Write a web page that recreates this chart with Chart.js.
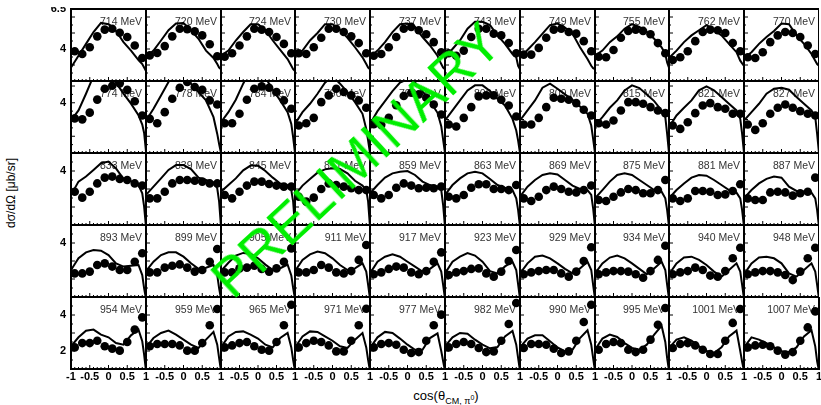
<!DOCTYPE html>
<html>
<head>
<meta charset="utf-8">
<script src="https://cdn.jsdelivr.net/npm/chart.js@4.4.0/dist/chart.umd.min.js"></script>
<style>
  body { margin: 0; background: #fff; }
  #page { position: relative; width: 821px; height: 405px; overflow: hidden; background: #fff;
          font-family: "Liberation Sans", Arial, sans-serif; }
  #page canvas { position: absolute; }
  #ytitle { position: absolute; left: 11px; top: 193px; transform: translate(-50%, -50%) rotate(-90deg);
            white-space: nowrap; font-size: 12px; color: #000; }
  #xtitle { position: absolute; left: 446px; top: 397px; transform: translate(-50%, -50%);
            white-space: nowrap; font-size: 13px; color: #000; }
  #xtitle sub { font-size: 9px; }
  #xtitle sup { font-size: 7px; }
  #prelim { position: absolute; left: 356px; top: 160px; transform: translate(-50%, -50%) rotate(-43deg);
            white-space: nowrap; font-size: 55px; color: #00ee00; pointer-events: none; }
</style>
</head>
<body>
<div id="page">
  <div id="ytitle">dσ/dΩ [μb/sr]</div>
  <div id="xtitle">cos(θ<sub>CM, π<sup>0</sup></sub>)</div>
</div>
<script>
// beam energies, one per panel (row by row)
const energies = [
  714, 720, 724, 730, 737, 743, 749, 755, 762, 770,
  774, 778, 784, 790, 796, 802, 809, 815, 821, 827,
  833, 839, 845, 851, 859, 863, 869, 875, 881, 887,
  893, 899, 905, 911, 917, 923, 929, 934, 940, 948,
  954, 959, 965, 971, 977, 982, 990, 995, 1001, 1007
]

// cos(theta) grid of the model curve and of the data points
const curveX = [-1, -0.8, -0.6, -0.4, -0.2, 0, 0.2, 0.4, 0.6, 0.8, 0.9, 0.95, 1]
const dotX = [-0.9, -0.7, -0.5, -0.3, -0.1, 0.1, 0.3, 0.5, 0.7, 0.9]

// y range of each row and the labels shown
const rowYMin = [2, 1, 1, 1, 1]
const rowYMax = [6.5, 5.3, 5, 5, 5]
const yTickLabels = [[4, 6.5], [4], [4], [4], [2, 4]]
const xTickLabels = [-1, -0.5, 0, 0.5, 1]

/* ===============================
   DATA POINTS (dsigma/dOmega)
================================ */
const dotsRow1 = [
  [3.86, 3.69, 4.11, 4.79, 5.21, 5.27, 5.02, 4.75, 4.22, 3.44],
  [3.60, 3.75, 4.18, 4.79, 5.27, 5.24, 5.10, 4.85, 4.30, 3.55],
  [3.52, 3.73, 4.22, 4.79, 5.27, 5.21, 5.06, 4.75, 4.32, 3.73],
  [3.73, 3.69, 4.11, 4.70, 5.27, 5.27, 5.06, 4.79, 4.37, 3.73],
  [3.58, 3.69, 4.11, 4.75, 5.27, 5.38, 5.17, 4.92, 4.43, 3.80],
  [3.73, 3.58, 3.90, 4.75, 5.27, 5.27, 4.96, 4.85, 4.37, 3.73],
  [3.65, 3.65, 4.07, 4.70, 5.21, 5.27, 5.06, 4.96, 4.49, 3.86],
  [3.52, 3.48, 3.94, 4.70, 5.13, 5.21, 5.13, 4.92, 4.37, 3.73],
  [3.31, 3.48, 3.86, 4.49, 5.06, 5.21, 5.17, 5.00, 4.37, 3.86],
  [3.48, 3.44, 3.80, 4.43, 4.85, 5.06, 5.00, 4.75, 4.22, 3.69]
]
const dotsRow2 = [
  [3.07, 3.01, 3.41, 4.19, 4.84, 5.02, 5.16, 4.77, 4.09, 3.24],
  [3.04, 2.78, 3.44, 4.24, 4.90, 5.24, 4.94, 4.78, 4.14, 3.90],
  [2.78, 2.78, 3.34, 4.18, 4.84, 4.98, 4.90, 4.64, 4.14, 3.64],
  [2.64, 2.78, 3.10, 4.04, 4.44, 4.84, 4.64, 4.44, 4.14, 3.70],
  [2.72, 2.68, 3.10, 3.85, 4.40, 4.60, 4.50, 4.30, 3.90, 3.30],
  [2.70, 2.58, 3.10, 3.74, 4.38, 4.44, 4.44, 4.18, 3.84, 3.18],
  [2.70, 2.70, 3.10, 3.74, 4.30, 4.24, 4.18, 3.98, 3.58, 3.24],
  [2.78, 2.70, 2.94, 3.54, 4.04, 4.04, 3.94, 3.74, 3.54, 3.38],
  [2.64, 2.44, 2.84, 3.38, 3.84, 3.98, 3.74, 3.64, 3.34, 3.34],
  [2.70, 2.38, 2.78, 3.34, 3.70, 3.90, 3.70, 3.50, 3.34, 3.24]
]
const dotsRow3 = [
  [2.85, 2.52, 2.85, 3.31, 3.63, 3.69, 3.56, 3.50, 3.31, 3.19],
  [2.48, 2.48, 2.85, 3.31, 3.50, 3.50, 3.46, 3.41, 3.31, 3.31],
  [2.67, 2.48, 2.85, 3.19, 3.41, 3.41, 3.28, 3.19, 3.13, 3.13],
  [2.57, 2.30, 2.52, 3.00, 3.31, 3.22, 3.13, 3.04, 2.94, 2.94],
  [2.67, 2.48, 2.67, 3.07, 3.31, 3.19, 3.04, 3.07, 3.04, 3.13],
  [2.57, 2.48, 2.67, 3.07, 3.26, 3.26, 3.00, 3.00, 2.94, 3.22],
  [2.48, 2.33, 2.57, 2.94, 3.13, 3.00, 2.85, 2.81, 2.94, 3.19],
  [2.39, 2.33, 2.57, 2.81, 3.00, 2.94, 2.76, 2.76, 2.94, 3.50],
  [2.48, 2.33, 2.48, 2.89, 2.89, 2.85, 2.67, 2.70, 2.89, 3.26],
  [2.48, 2.39, 2.39, 2.81, 2.85, 2.81, 2.63, 2.76, 2.85, 3.63]
]
const dotsRow4 = [
  [2.31, 2.31, 2.41, 2.78, 2.87, 2.69, 2.50, 2.50, 2.96, 3.43],
  [2.37, 2.37, 2.63, 2.74, 2.81, 2.63, 2.41, 2.50, 2.96, 3.67],
  [2.37, 2.37, 2.59, 2.63, 2.74, 2.56, 2.41, 2.59, 2.96, 3.70],
  [2.37, 2.37, 2.50, 2.78, 2.63, 2.37, 2.31, 2.44, 3.06, 3.89],
  [2.26, 2.37, 2.56, 2.69, 2.63, 2.37, 2.26, 2.44, 2.96, 3.48],
  [2.22, 2.37, 2.44, 2.56, 2.59, 2.31, 2.13, 2.41, 3.00, 3.61],
  [2.26, 2.37, 2.44, 2.50, 2.50, 2.31, 2.13, 2.41, 3.00, 3.76],
  [2.26, 2.37, 2.44, 2.44, 2.41, 2.26, 2.07, 2.44, 3.06, 3.85],
  [2.26, 2.37, 2.44, 2.63, 2.50, 2.19, 2.13, 2.44, 3.15, 3.74],
  [2.26, 2.37, 2.44, 2.44, 2.37, 2.22, 1.94, 2.41, 3.15, 3.74]
]
const dotsRow5 = [
  [2.20, 2.44, 2.44, 2.57, 2.26, 2.13, 2.02, 2.50, 3.19, 3.87],
  [2.26, 2.39, 2.39, 2.39, 2.31, 2.02, 2.02, 2.44, 3.43, 4.33],
  [2.20, 2.31, 2.44, 2.50, 2.26, 2.07, 2.02, 2.50, 3.43, 4.57],
  [2.20, 2.44, 2.57, 2.50, 2.31, 1.98, 1.98, 2.57, 3.43, 4.35],
  [2.20, 2.39, 2.44, 2.35, 2.07, 1.89, 1.94, 2.57, 3.43, 4.02],
  [2.20, 2.39, 2.50, 2.39, 2.17, 1.94, 1.98, 2.57, 3.50, 4.67],
  [2.17, 2.39, 2.39, 2.35, 2.13, 1.89, 1.98, 2.57, 3.61, 4.57],
  [2.07, 2.39, 2.50, 2.44, 2.07, 1.94, 2.07, 2.63, 3.46, 4.39],
  [2.17, 2.39, 2.44, 2.31, 2.07, 1.83, 1.83, 2.57, 3.56, 4.33],
  [2.20, 2.31, 2.35, 2.26, 2.02, 1.80, 1.94, 2.57, 3.31, 4.20]
]

/* ===============================
   MODEL CURVES
================================ */
const curveRow1 = [
  [2.84, 3.58, 4.32, 5.06, 5.63, 5.55, 5.13, 4.43, 3.90, 3.31, 3.06, 2.84, 2.63],
  [3.48, 3.90, 4.53, 5.17, 5.59, 5.63, 5.17, 4.64, 3.90, 3.44, 3.06, 2.84, 2.74],
  [3.58, 3.90, 4.53, 5.06, 5.55, 5.55, 5.17, 4.53, 3.94, 3.37, 2.95, 2.74, 2.63],
  [3.58, 3.90, 4.53, 5.00, 5.55, 5.55, 5.21, 4.70, 4.11, 3.48, 3.06, 2.84, 2.74],
  [3.48, 3.90, 4.43, 5.06, 5.55, 5.59, 5.38, 4.75, 4.22, 3.58, 3.06, 2.84, 2.74],
  [3.37, 4.00, 4.53, 5.27, 5.70, 5.70, 5.49, 4.85, 4.32, 3.69, 3.48, 2.95, 2.74],
  [3.44, 3.94, 4.43, 4.96, 5.49, 5.59, 5.34, 4.96, 4.11, 3.37, 2.95, 2.80, 2.74],
  [3.58, 3.90, 4.43, 4.79, 5.27, 5.55, 5.38, 5.06, 4.64, 4.11, 3.69, 3.16, 2.84],
  [3.44, 3.90, 4.43, 4.85, 5.17, 5.49, 5.21, 4.85, 4.32, 3.80, 3.27, 3.10, 2.95],
  [3.44, 3.80, 4.32, 4.75, 5.13, 5.59, 5.55, 4.85, 4.32, 3.69, 3.27, 3.06, 2.95]
]
const curveRow2 = [
  [2.94, 3.54, 4.54, 5.60, 6.20, 6.20, 5.20, 4.55, 3.95, 3.25, 2.70, 2.20, 1.10],
  [2.94, 3.64, 4.44, 5.24, 6.00, 6.00, 5.14, 4.64, 4.14, 3.14, 2.14, 1.54, 1.00],
  [2.84, 3.44, 4.18, 5.14, 6.00, 6.00, 5.50, 4.78, 4.14, 3.44, 2.74, 1.94, 1.00],
  [2.74, 3.44, 3.94, 4.54, 5.20, 5.60, 5.14, 4.64, 4.04, 3.34, 2.44, 1.74, 1.00],
  [2.74, 3.50, 4.10, 4.70, 5.20, 5.40, 5.20, 4.70, 4.10, 3.40, 2.60, 1.80, 1.00],
  [2.94, 3.54, 4.14, 4.74, 5.04, 5.04, 4.70, 4.24, 3.84, 3.04, 2.34, 1.74, 1.00],
  [2.94, 3.54, 4.14, 4.90, 5.14, 4.84, 4.50, 4.18, 3.78, 3.34, 2.64, 1.84, 1.00],
  [2.64, 3.14, 3.70, 4.14, 4.74, 5.04, 4.88, 4.50, 4.10, 3.54, 3.14, 2.14, 1.00],
  [2.54, 3.24, 3.70, 4.14, 4.74, 4.98, 4.74, 4.34, 3.94, 3.54, 3.04, 2.14, 1.00],
  [2.94, 3.44, 3.94, 4.54, 4.84, 4.90, 4.78, 4.34, 3.94, 3.54, 3.14, 2.14, 1.00]
]
const curveRow3 = [
  [2.67, 3.41, 3.69, 4.06, 4.43, 4.52, 4.15, 3.56, 3.44, 3.22, 2.76, 2.02, 0.90],
  [2.67, 3.13, 3.59, 4.06, 4.33, 4.33, 4.11, 3.63, 3.50, 3.37, 3.04, 2.30, 0.90],
  [2.85, 3.22, 3.59, 4.04, 4.30, 4.30, 4.00, 3.63, 3.31, 3.22, 2.94, 2.30, 0.90],
  [2.67, 3.19, 3.56, 3.91, 4.09, 4.15, 4.11, 3.87, 3.46, 3.19, 2.94, 2.30, 0.90],
  [2.76, 3.22, 3.63, 3.87, 3.96, 4.00, 3.78, 3.41, 3.22, 3.13, 2.94, 2.11, 0.90],
  [2.67, 3.22, 3.59, 3.87, 3.96, 3.87, 3.56, 3.22, 3.07, 2.94, 2.48, 1.83, 0.90],
  [2.57, 3.13, 3.50, 3.78, 3.87, 3.81, 3.50, 3.19, 3.00, 2.94, 2.67, 1.93, 0.90],
  [2.48, 2.94, 3.41, 3.78, 3.87, 3.78, 3.50, 3.22, 2.94, 2.85, 2.48, 1.83, 0.90],
  [2.48, 2.94, 3.31, 3.63, 3.78, 3.74, 3.50, 3.22, 2.94, 2.80, 2.48, 1.83, 0.90],
  [2.48, 2.94, 3.31, 3.56, 3.69, 3.63, 3.13, 2.89, 2.85, 2.80, 2.48, 1.83, 0.90]
]
const curveRow4 = [
  [2.50, 3.15, 3.48, 3.61, 3.57, 3.33, 2.87, 2.69, 2.74, 2.78, 2.22, 1.48, 0.90],
  [2.44, 2.96, 3.33, 3.48, 3.48, 3.24, 2.87, 2.56, 2.63, 2.78, 2.22, 1.48, 0.90],
  [2.44, 2.90, 3.30, 3.45, 3.40, 3.15, 2.80, 2.50, 2.60, 2.80, 2.20, 1.50, 0.90],
  [2.44, 3.06, 3.37, 3.52, 3.43, 3.15, 2.78, 2.50, 2.59, 2.87, 2.41, 1.67, 0.90],
  [2.31, 2.96, 3.24, 3.37, 3.24, 2.96, 2.69, 2.41, 2.56, 2.87, 2.41, 1.67, 0.90],
  [2.31, 2.96, 3.24, 3.44, 3.30, 2.96, 2.44, 2.31, 2.70, 2.96, 2.50, 1.70, 0.90],
  [2.31, 2.87, 3.24, 3.30, 3.15, 2.87, 2.56, 2.31, 2.59, 2.96, 2.50, 1.67, 0.90],
  [2.31, 2.87, 3.19, 3.30, 3.15, 2.87, 2.56, 2.26, 2.59, 2.96, 2.50, 1.67, 0.90],
  [2.26, 2.87, 3.19, 3.24, 3.06, 2.78, 2.41, 2.13, 2.50, 2.87, 2.41, 1.67, 0.90],
  [2.26, 2.87, 3.19, 3.24, 3.15, 2.87, 2.31, 2.13, 2.50, 2.87, 2.41, 1.67, 0.90]
]
const curveRow5 = [
  [2.26, 2.76, 3.13, 3.19, 2.91, 2.76, 2.44, 2.35, 2.87, 3.19, 2.54, 1.80, 0.90],
  [2.20, 2.72, 3.00, 3.13, 2.91, 2.63, 2.35, 2.17, 2.63, 3.06, 2.35, 1.60, 0.90],
  [2.20, 2.81, 3.06, 3.09, 2.91, 2.69, 2.35, 2.20, 2.72, 3.00, 2.20, 1.50, 0.90],
  [2.20, 2.81, 3.09, 3.06, 2.81, 2.57, 2.26, 2.17, 2.63, 3.00, 2.20, 1.50, 0.90],
  [2.17, 2.76, 3.06, 3.00, 2.69, 2.35, 2.07, 2.07, 2.72, 2.98, 2.00, 1.43, 0.90],
  [2.26, 2.76, 3.00, 2.96, 2.63, 2.35, 2.15, 2.22, 2.81, 3.11, 2.35, 1.60, 0.90],
  [2.20, 2.69, 2.87, 2.87, 2.54, 2.20, 1.98, 2.07, 2.72, 3.15, 2.35, 1.60, 0.90],
  [2.07, 2.69, 2.91, 2.78, 2.44, 2.17, 2.07, 2.35, 2.91, 3.40, 2.50, 1.60, 0.90],
  [2.17, 2.63, 2.76, 2.57, 2.26, 2.00, 1.89, 2.20, 2.81, 3.13, 2.00, 1.40, 0.90],
  [2.20, 2.76, 2.63, 2.44, 2.20, 1.98, 1.94, 2.20, 2.81, 3.15, 2.26, 1.43, 0.90]
]

const dotRows = [dotsRow1, dotsRow2, dotsRow3, dotsRow4, dotsRow5]
const curveRows = [curveRow1, curveRow2, curveRow3, curveRow4, curveRow5]

// frame edges of the pads (pixels on the page)
const colEdges = [71, 146, 221, 295, 370, 445, 520, 595, 669, 744, 819]
const rowEdges = [9, 81, 153, 225, 297, 369]

const FONT = '"Liberation Sans", Arial, sans-serif'

/* ===============================
   FRAME, TICKS, LABELS
================================ */
const panelDeco = {
  id: 'panelDeco',
  beforeDatasetsDraw(chart, args, opts) {
    const ctx = chart.ctx
    const a = chart.chartArea
    ctx.save()
    ctx.fillStyle = '#333'
    ctx.font = '10.5px ' + FONT
    ctx.textAlign = 'right'
    ctx.textBaseline = 'alphabetic'
    ctx.fillText(opts.label, a.right - 4, a.top + 16)
    ctx.restore()
  },
  afterDatasetsDraw(chart, args, opts) {
    const ctx = chart.ctx
    const a = chart.chartArea
    const xs = chart.scales.x
    const ys = chart.scales.y
    ctx.save()
    ctx.strokeStyle = '#000'
    ctx.lineWidth = 1
    ctx.beginPath()
    for (let k = -10; k <= 10; k++) {
      const px = xs.getPixelForValue(k / 10)
      const len = k % 5 === 0 ? 4 : 2
      ctx.moveTo(px, a.bottom)
      ctx.lineTo(px, a.bottom - len)
    }
    for (let v = Math.ceil(ys.min * 2) / 2; v <= ys.max; v += 0.5) {
      const py = ys.getPixelForValue(v)
      const len = Number.isInteger(v) ? 4 : 2
      ctx.moveTo(a.left, py)
      ctx.lineTo(a.left + len, py)
    }
    ctx.stroke()

    ctx.lineWidth = 2
    ctx.strokeRect(a.left, a.top, a.right - a.left, a.bottom - a.top)

    ctx.fillStyle = '#000'
    ctx.font = 'bold 11px ' + FONT
    if (opts.col === 0) {
      ctx.textAlign = 'right'
      ctx.textBaseline = 'middle'
      yTickLabels[opts.row].forEach(v => {
        ctx.fillText(String(v), a.left - 5, ys.getPixelForValue(v))
      })
    }
    if (opts.row === 4) {
      ctx.textAlign = 'center'
      ctx.textBaseline = 'top'
      xTickLabels.forEach(v => {
        if (v === -1 && opts.col > 0) return
        ctx.fillText(String(v), xs.getPixelForValue(v), a.bottom + 2)
      })
    }
    ctx.restore()
  }
}

/* ===============================
   BUILD THE 50 PADS
================================ */
const page = document.getElementById('page')

for (let r = 0; r < 5; r++) {
  for (let c = 0; c < 10; c++) {
    const pad = {
      left: c === 0 ? 40 : 0,
      right: r === 4 ? 8 : 0,
      top: r === 0 ? 2 : 0,
      bottom: r === 4 ? 22 : 0
    }
    const w = colEdges[c + 1] - colEdges[c] + pad.left + pad.right
    const h = rowEdges[r + 1] - rowEdges[r] + pad.top + pad.bottom
    const cv = document.createElement('canvas')
    cv.width = w
    cv.height = h
    cv.style.left = (colEdges[c] - pad.left) + 'px'
    cv.style.top = (rowEdges[r] - pad.top) + 'px'
    cv.style.width = w + 'px'
    cv.style.height = h + 'px'
    page.appendChild(cv)

    const curve = curveRows[r][c]
    const dots = dotRows[r][c]

    new Chart(cv, {
      type: 'scatter',
      data: {
        datasets: [
          {
            type: 'line',
            data: curveX.map((x, i) => ({ x: x, y: curve[i] })),
            borderColor: '#000',
            borderWidth: 2,
            pointRadius: 0,
            tension: 0,
            fill: false,
            clip: 0
          },
          {
            data: dotX.map((x, i) => ({ x: x, y: dots[i] })),
            backgroundColor: '#000',
            borderColor: '#000',
            borderWidth: 0,
            pointRadius: 4.3,
            clip: 0
          }
        ]
      },
      options: {
        responsive: false,
        animation: false,
        events: [],
        layout: { padding: pad, autoPadding: false },
        scales: {
          x: { type: 'linear', min: -1, max: 1, display: false },
          y: { type: 'linear', min: rowYMin[r], max: rowYMax[r], display: false }
        },
        plugins: {
          legend: { display: false },
          tooltip: { enabled: false },
          panelDeco: { row: r, col: c, label: energies[r * 10 + c] + ' MeV' }
        }
      },
      plugins: [panelDeco]
    })
  }
}

// watermark on top of everything
const prelim = document.createElement('div')
prelim.id = 'prelim'
prelim.textContent = 'PRELIMINARY'
page.appendChild(prelim)
</script>
</body>
</html>
